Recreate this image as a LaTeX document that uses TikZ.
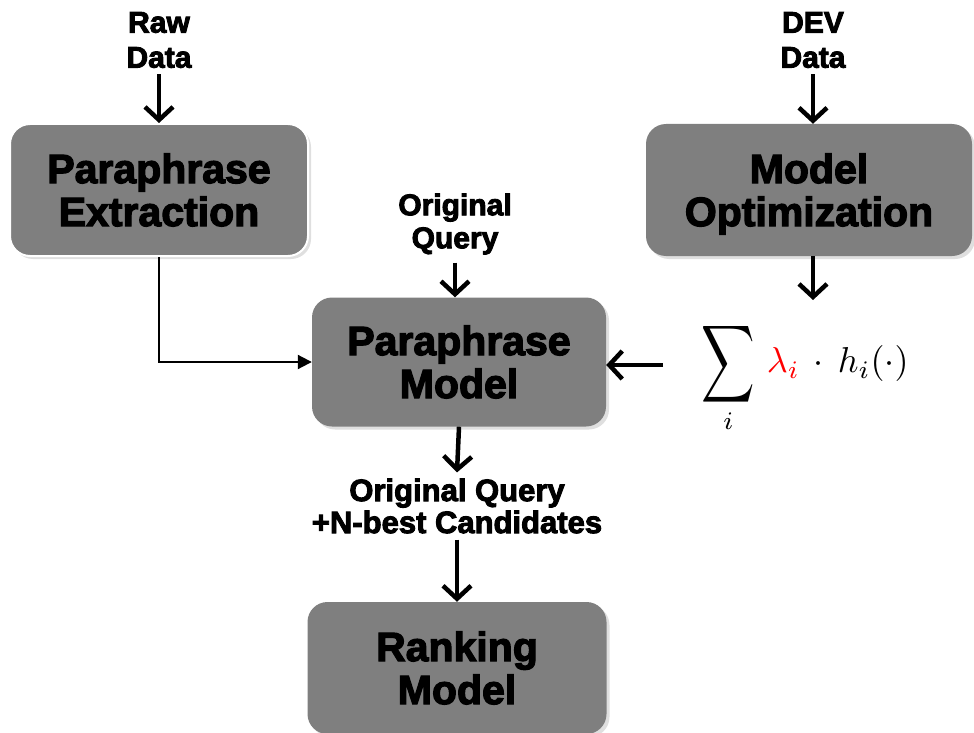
\documentclass[tikz,border=0pt]{standalone}
\usepackage{fontspec}
\usepackage{graphicx}
\usepackage{xcolor}
\usetikzlibrary{arrows.meta,shadows}
\newfontfamily\heavy{Liberation Sans Bold}[FakeBold=3]
\newcommand{\boxtext}[2]{\raisebox{-6pt}[\height][\depth]{\begin{tabular}{@{}c@{}}#1\\#2\end{tabular}}}
\begin{document}
\begin{tikzpicture}[x=1pt,y=-1pt,
  box/.style={draw=none, fill=boxgray, rounded corners=20pt, inner sep=0pt,
    align=center, font=\heavy\fontsize{41}{43}\selectfont,
    drop shadow={opacity=0.25, shadow xshift=3pt, shadow yshift=-3pt}},
  lbl/.style={align=center, inner sep=0pt, font=\heavy\fontsize{30}{35}\selectfont},
  bigarrow/.style={line width=4.5pt, -{Straight Barb[length=13pt,width=28pt]}},
  thinarrow/.style={line width=2pt, -{Triangle[length=14pt,width=14pt]}}
]
\definecolor{boxgray}{RGB}{127,127,127}
\useasboundingbox (0,0) rectangle (974,733);

\node[box, minimum width=298pt, minimum height=132pt, draw=white, line width=2pt] (pe) at (159,190) {\boxtext{Paraphrase}{Extraction}};
\node[box, minimum width=326pt, minimum height=132pt] (mo) at (809,190) {\boxtext{Model}{Optimization}};
\node[box, minimum width=294pt, minimum height=129pt] (pm) at (459,362) {\boxtext{Paraphrase}{Model}};
\node[box, minimum width=299pt, minimum height=132pt] (rm) at (457,668) {\boxtext{Ranking}{Model}};

\node[lbl] (raw) at (159,40) {Raw\\Data};
\node[lbl] (dev) at (813,40) {DEV\\Data};
\node[lbl, font=\heavy\fontsize{30}{33}\selectfont] (oq) at (455,224) {Original\\Query};
\node[lbl, font=\heavy\fontsize{31}{32}\selectfont] (nb) at (457,506) {Original Query\\+N-best Candidates};

\node[inner sep=0pt] (form) at (805,377)
  {\scalebox{3.6}{$\displaystyle \mathop{\vcenter{\hbox{\scalebox{1.03}[1.5]{$\displaystyle\sum$}}}}\limits_{i}\, \textcolor{red}{\lambda_i}\,\cdot\, h_i(\cdot)$}};

\coordinate (fa) at (663,365);
\coordinate (fb) at (813,300);

\draw[bigarrow] ([yshift=-6pt]raw.south) -- (raw.south |- pe.north);
\draw[bigarrow] ([yshift=-6pt]dev.south) -- (dev.south |- mo.north);
\draw[bigarrow] ([yshift=-8pt]oq.south) -- (oq.south |- pm.north);
\draw[bigarrow] (fb |- mo.south) -- (fb);
\draw[bigarrow] (fa) -- (fa -| pm.east);
\draw[bigarrow] (pm.south) -- ([yshift=6pt]nb.north);
\draw[bigarrow] ([yshift=-6pt]nb.south) -- (nb.south |- rm.north);
\draw[thinarrow] (pe.south) |- (pm.west);
\end{tikzpicture}
\end{document}
